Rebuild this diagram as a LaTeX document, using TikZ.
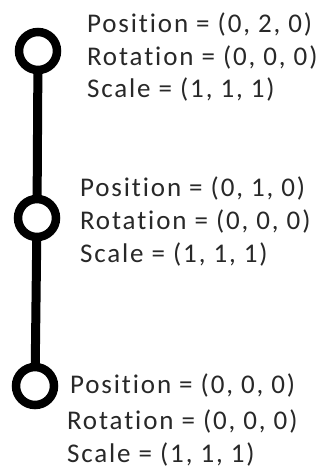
\documentclass[tikz,border=0pt]{standalone}
\usepackage{fontspec}
\setmainfont{Carlito}[LetterSpace=7,Ligatures={NoCommon}]
\usepackage{tikz}

\begin{document}
\begin{tikzpicture}[x=1pt,y=-1pt,
  joint/.style={circle,draw=black,fill=white,line width=8.5pt,inner sep=0pt,minimum size=38pt},
  bone/.style={draw=black,line width=9pt},
  info/.style={inner sep=0pt,outer sep=0pt,anchor=base west,text={rgb,255:red,40;green,40;blue,40},font=\fontsize{27}{32.4}\selectfont}]
\path[use as bounding box] (0,0) rectangle (330,474);
\path[fill=white,draw=none] (0,0) rectangle (330,474);
% bones
\coordinate (topc) at (38,51);
\coordinate (midc) at (37,218);
\coordinate (botc) at (35,386);
\draw[bone] (topc) -- (midc) -- (botc);
% joints
\node[joint] (top) at (topc) {};
\node[joint] (mid) at (midc) {};
\node[joint] (bot) at (botc) {};
% top joint
\node[info] (toppos) at (87,32) {Position = (0, 2, 0)};
\node[info] (toprot) at (87,65) {Rotation = (0, 0, 0)};
\node[info] (topscl) at (87,97) {Scale = (1, 1, 1)};
% middle joint
\node[info] (midpos) at (80,196) {Position = (0, 1, 0)};
\node[info] (midrot) at (80,229) {Rotation = (0, 0, 0)};
\node[info] (midscl) at (80,262) {Scale = (1, 1, 1)};
% bottom joint
\node[info] (botpos) at (70,393) {Position = (0, 0, 0)};
\node[info] (botrot) at (67,429) {Rotation = (0, 0, 0)};
\node[info] (botscl) at (67,462) {Scale = (1, 1, 1)};
\end{tikzpicture}
\end{document}
